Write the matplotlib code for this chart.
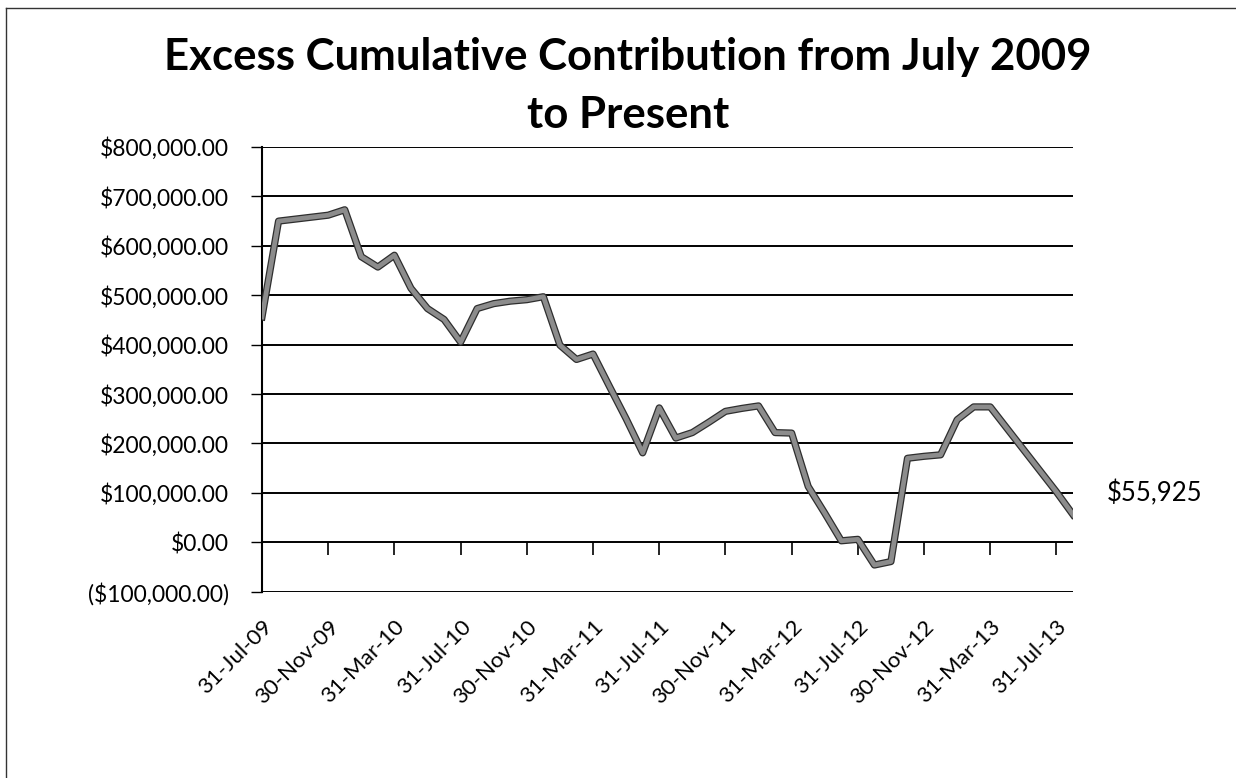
import pandas as pd
import matplotlib.pyplot as plt
import matplotlib.patheffects as pe
from matplotlib.lines import Line2D
from matplotlib.ticker import FuncFormatter
from matplotlib.transforms import blended_transform_factory

plt.rcParams['font.family'] = ['Lato', 'DejaVu Sans']

# Month-end dates, July 2009 onwards
month_ends = pd.date_range("2009-07-31", periods=50, freq="ME")

# Excess cumulative contribution ($)
excess = [456000, 650000, 654000, 658000, 662000, 673000, 578000, 557000, 581000, 514000,
          473000, 451000, 405000, 473000, 483000, 488000, 491000, 497000, 399000, 370000,
          381000, 315000, 250000, 181000, 272000, 211000, 222000, 243000, 265000, 271000,
          276000, 222000, 221000, 113000, 59000, 3000, 6000, -46000, -39000, 170000,
          174000, 177000, 248000, 274000, 274000, 231000, 188000, 145000, 102000, 55925]

label_every = 4


def money(v, pos=None):
    if v < 0:
        return f"(${-v:,.2f})"
    return f"${v:,.2f}"


fig = plt.figure(figsize=(12.36, 7.78), dpi=100)
ax = fig.add_axes([262 / 1236, 1 - 591.7 / 778, 811 / 1236, (591.7 - 147) / 778])

x = range(len(excess))
ax.plot(x, excess, color='#8c8c8c', lw=3.4,
        path_effects=[pe.Stroke(linewidth=5.2, foreground='#2e2e2e'), pe.Normal()],
        zorder=3)

ax.set_xlim(0, len(excess) - 1)
ax.set_ylim(-100000, 800000)
ax.set_yticks(range(-100000, 800001, 100000))
ax.yaxis.set_major_formatter(FuncFormatter(money))
ax.grid(axis='y', color='black', lw=1.4)
ax.set_axisbelow(True)

for s in ['top', 'right', 'bottom']:
    ax.spines[s].set_visible(False)
ax.spines['left'].set_linewidth(1.5)

ax.tick_params(axis='y', direction='out', length=8, width=1, pad=16, labelsize=16.5)

# date labels along the bottom
tick_pos = list(range(0, len(excess), label_every))
ax.set_xticks(tick_pos)
ax.set_xticklabels([month_ends[i].strftime('%d-%b-%y') for i in tick_pos],
                   rotation=45, ha='right', va='top', rotation_mode='anchor', fontsize=16)
ax.tick_params(axis='x', length=0, pad=18)

# tick marks sit on the $0 line
sec = ax.secondary_xaxis(1 / 9)
sec.set_xticks(tick_pos)
sec.tick_params(length=9, width=1.2, labelbottom=False, labeltop=False)
sec.spines['bottom'].set_visible(False)
sec.spines['top'].set_visible(False)

# end value label
trans = blended_transform_factory(ax.transAxes, ax.transData)
ax.text(1.042, 100000, f"${excess[-1]:,.0f}", transform=trans, va='center', ha='left', fontsize=18.5)

fig.text(0.508, 1 - 37 / 778, "Excess Cumulative Contribution from July 2009\nto Present",
         ha='center', va='top', fontsize=31.5, fontweight='bold', linespacing=1.55)

# chart frame (left and top edges)
fig.add_artist(Line2D([6 / 1236, 6 / 1236], [0, 1 - 8 / 778], transform=fig.transFigure, color='#333333', lw=1))
fig.add_artist(Line2D([6 / 1236, 1], [1 - 8 / 778, 1 - 8 / 778], transform=fig.transFigure, color='#333333', lw=1))

fig.savefig('out.png', dpi=100)
